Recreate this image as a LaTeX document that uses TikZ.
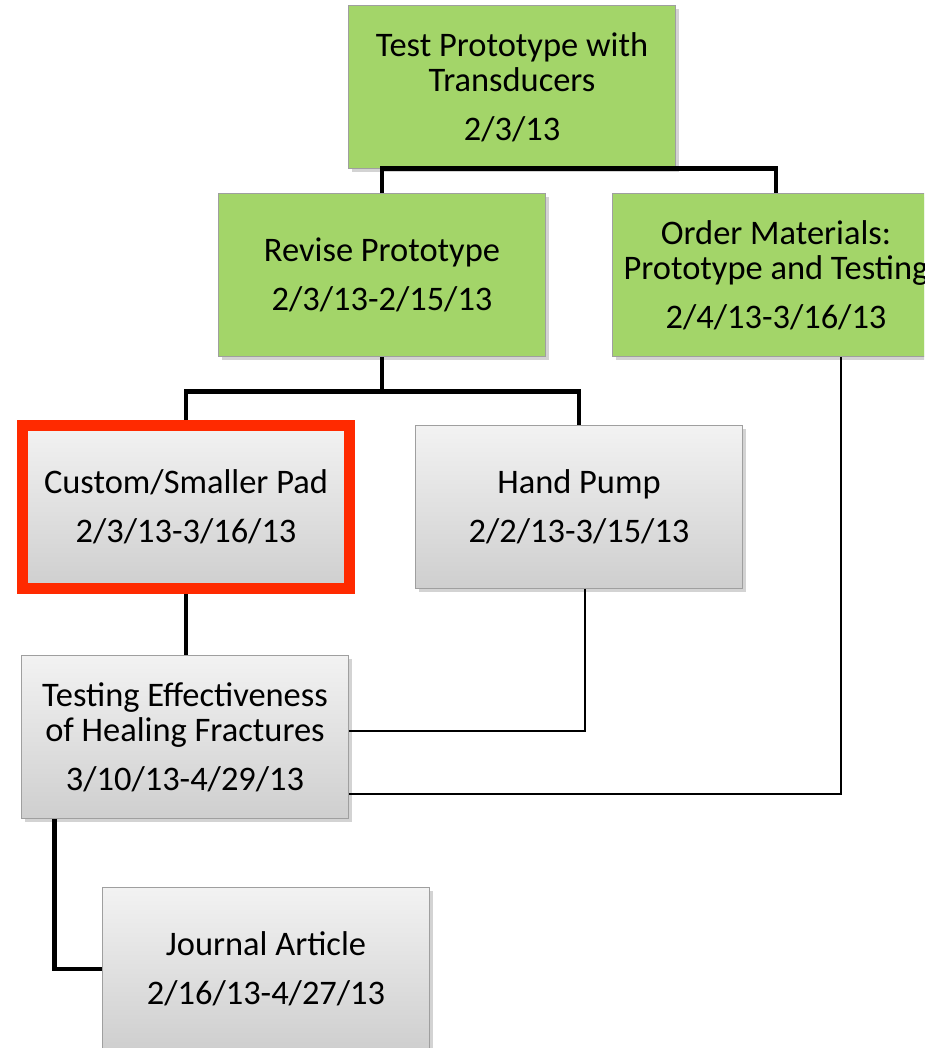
\documentclass[tikz,border=0pt]{standalone}
\usepackage{fontspec}
\setmainfont{Carlito}
\usepackage{xcolor}
\usepackage{tikz}
\usetikzlibrary{shapes,positioning,calc,shadows}

\definecolor{taskgreen}{HTML}{A3D569}
\definecolor{alertred}{HTML}{FF2A00}

\begin{document}
\begin{tikzpicture}[
    x=0.02cm, y=-0.02cm,
    task/.style={rectangle, draw=gray!75, fill=taskgreen, minimum width=6.54cm, minimum height=3.26cm, align=center, font=\fontsize{19.6}{20}\selectfont, drop shadow={opacity=0.35, shadow xshift=2pt, shadow yshift=-2pt}},
    subtask/.style={task, fill=none, top color=gray!10, bottom color=gray!38},
    trunk/.style={line width=2.8pt, black},
    link/.style={line width=1.1pt, black}
]
\useasboundingbox (0,0) rectangle (924,1048);
\clip (0,0) rectangle (924,1048);

% Green tasks (top levels)
\node[task] (test) at (512, 87) {Test Prototype with\\Transducers\\[8pt]2/3/13};
\node[task] (revise) at (382, 275) {Revise Prototype\\[8pt]2/3/13-2/15/13};
\node[task] (order) at (776, 275) {Order Materials:\\Prototype and Testing\\[8pt]2/4/13-3/16/13};

% Gray tasks
\node[subtask, draw=alertred, line width=6.2pt] (custom) at (186, 507) {Custom/Smaller Pad\\[8pt]2/3/13-3/16/13};
\node[subtask] (hand) at (579, 507) {Hand Pump\\[8pt]2/2/13-3/15/13};
\node[subtask] (testing) at (185, 737) {Testing Effectiveness\\of Healing Fractures\\[8pt]3/10/13-4/29/13};
\node[subtask] (journal) at (266, 969) {Journal Article\\[8pt]2/16/13-4/27/13};

% Tree connections
\draw[trunk] (revise.north) -- (revise.north |- test.south) -| (order.north);
\coordinate (split) at ($(revise.south)+(0,35)$);
\draw[trunk] (revise.south) -- (split);
\draw[trunk] (custom.north) |- (split) -| (hand.north);
\draw[trunk] (custom.south) -- (custom.south |- testing.north);
\draw[trunk] ($(testing.south west)+(33,0)$) |- (journal.west);

% Thin dependency lines
\draw[link] ($(hand.south)+(6,0)$) |- ($(testing.east)+(0,-6)$);
\draw[link] ($(order.south)+(65,0)$) |- ($(testing.east)+(0,57)$);

\end{tikzpicture}
\end{document}
